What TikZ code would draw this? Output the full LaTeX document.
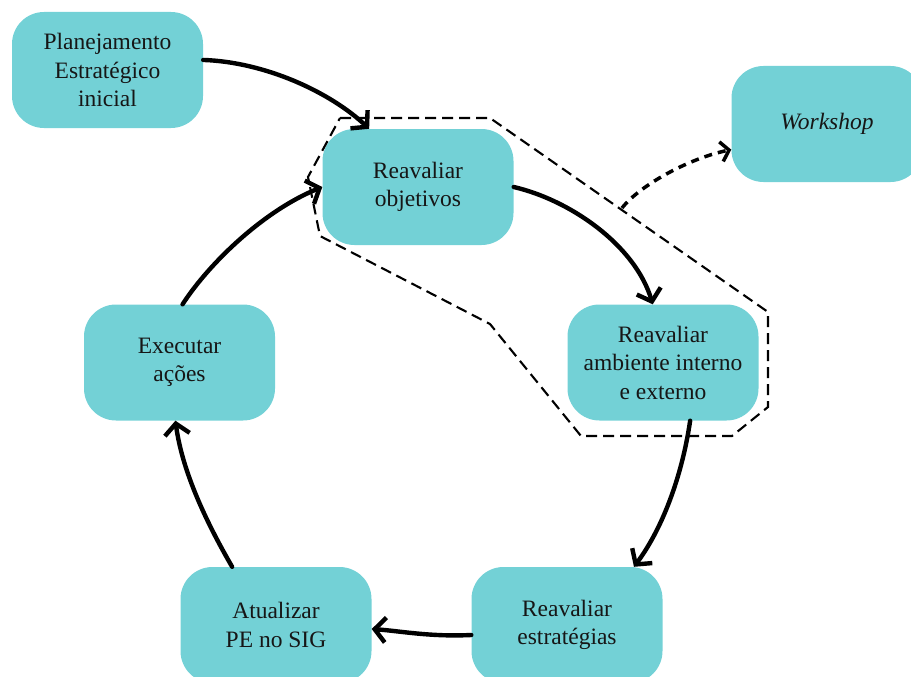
\documentclass[tikz,border=0pt]{standalone}
\usepackage{fontspec}
\setmainfont{Liberation Serif}
\usetikzlibrary{arrows.meta,calc}
\definecolor{boxfill}{RGB}{115,209,214}
\definecolor{txt}{RGB}{22,22,22}
\tikzset{
  box/.style={rectangle, rounded corners=32pt, fill=boxfill, draw=none,
    minimum width=191pt, minimum height=116pt, inner sep=0pt, align=center,
    text=txt, font=\fontsize{23.5}{28.5}\selectfont},
  flow/.style={line width=4.4pt, line cap=round, -{Straight Barb[length=11pt,width=25pt]}},
  dflow/.style={line width=3.5pt, dash pattern=on 8pt off 6pt, -{Straight Barb[length=8pt,width=20pt]}},
  group/.style={line width=2.1pt, dash pattern=on 11pt off 6pt}
}
\begin{document}
\begin{tikzpicture}[x=1pt,y=-1pt]
\useasboundingbox (0,0) rectangle (911,677);
\clip (0,0) rectangle (911,677);

\node[box] (plan) at (107.5,70) {Planejamento\\Estratégico\\inicial};
\node[box] (obj) at (418,187) {Reavaliar\\objetivos};
\node[box] (work) at (827,124) {\itshape Workshop};
\node[box] (amb) at (663,362.5) {Reavaliar\\ambiente interno\\e externo};
\node[box] (exec) at (179.5,362.5) {Executar\\ações};
\node[box] (atual) at (276,625) {Atualizar\\PE no SIG};
\node[box] (estr) at (567,625) {Reavaliar\\estratégias};

\draw[group] (340,118) -- (490,118) -- (768,312) -- (768,407) -- (732,436)
  -- (581,436) -- (490,324) -- (320,236) -- (308,177) -- cycle;
\coordinate (gedge) at (622,208);

\draw[flow] (plan.6) .. controls (265,62) and (330,92) .. (obj.130);
\draw[flow] (exec.87) .. controls (210,262) and (265,210) .. (obj.west);
\draw[flow] (obj.east) .. controls (570,200) and (635,245) .. (amb.100);
\draw[flow] (amb.-65) .. controls (683,470) and (665,525) .. (estr.41);
\draw[flow] ([yshift=-10pt]estr.west) .. controls (430,637) and (400,631) .. ([yshift=-4pt]atual.east);
\draw[flow] (atual.127) .. controls (205,520) and (182,470) .. (exec.-94);
\draw[dflow] (gedge) .. controls (640,185) and (690,158) .. (work.195);
\end{tikzpicture}
\end{document}
